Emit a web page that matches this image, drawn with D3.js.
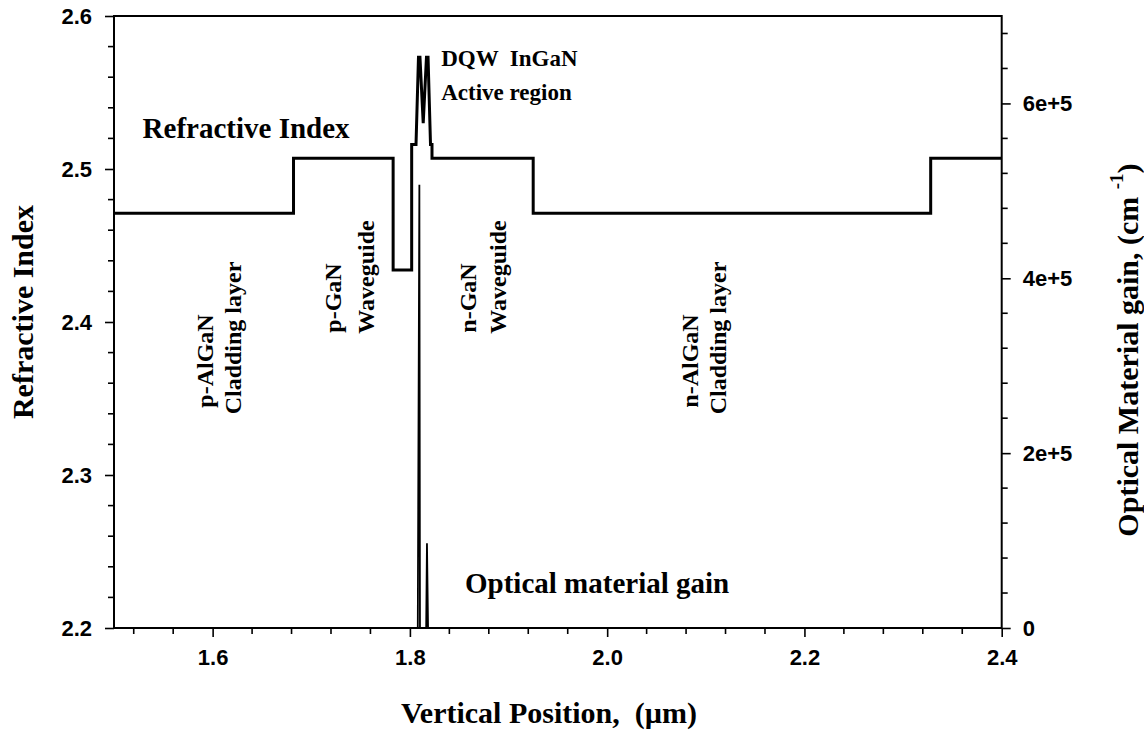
<!DOCTYPE html>
<html>
<head>
<meta charset="utf-8">
<script src="https://cdn.jsdelivr.net/npm/d3@7"></script>
<style>
  html, body { margin: 0; padding: 0; background: #fff; }
  svg { display: block; }
  .tick-label { font-family: "Liberation Sans", Arial, sans-serif; font-weight: bold; font-size: 22px; fill: #000; }
  .serif { font-family: "Liberation Serif", "Times New Roman", serif; font-weight: bold; fill: #000; }
</style>
</head>
<body>
<svg id="chart" width="1144" height="740"></svg>
<script>
// Refractive index profile across the laser structure (position in µm, index)
const indexPosition = [1.500, 1.682, 1.682, 1.783, 1.783, 1.8018, 1.8018, 1.8062, 1.8087, 1.8102, 1.8135, 1.8168, 1.8184, 1.8209, 1.8224, 1.8224, 1.925, 1.925, 2.328, 2.328, 2.400];
const indexValue    = [2.471, 2.471, 2.507, 2.507, 2.434, 2.434,  2.516,  2.516,  2.573,  2.573,  2.530,  2.573,  2.573,  2.516,  2.516,  2.507,  2.507, 2.471, 2.471, 2.507, 2.507];

// Optical material gain in the two quantum wells (position in µm, gain in cm^-1)
const gainPosition = [1.800, 1.8080, 1.8096, 1.8102, 1.8165, 1.8173, 1.8184, 1.826];
const gainValue    = [0,     0,      507000, 0,      0,      97000,  0,      0];

// Axis ticks
const xTickValues = [1.6, 1.8, 2.0, 2.2, 2.4];
const xTickLabels = ["1.6", "1.8", "2.0", "2.2", "2.4"];
const yTickValues = [2.2, 2.3, 2.4, 2.5, 2.6];
const yTickLabels = ["2.2", "2.3", "2.4", "2.5", "2.6"];
const gainTickValues = [0, 200000, 400000, 600000];
const gainTickLabels = ["0", "2e+5", "4e+5", "6e+5"];

const svg = d3.select("#chart");
const plotLeft = 114, plotRight = 1001.7, plotTop = 16, plotBottom = 628;

const x = d3.scaleLinear().domain([1.5, 2.4]).range([plotLeft, plotRight]);
const y = d3.scaleLinear().domain([2.2, 2.6]).range([plotBottom, plotTop]);
const yGain = d3.scaleLinear().domain([0, 700000]).range([plotBottom, plotTop]);

// minor tick positions
const xMinor = d3.range(38, 61).map(k => k * 0.04).filter(v => v >= 1.5 - 1e-9 && v <= 2.4 + 1e-9 && !xTickValues.some(t => Math.abs(t - v) < 1e-6));
const yMinor = d3.range(110, 131).map(k => k * 0.02).filter(v => !yTickValues.some(t => Math.abs(t - v) < 1e-6));
const gMinor = d3.range(0, 18).map(k => k * 40000).filter(v => !gainTickValues.includes(v));

// Bottom axis
const xAxis = d3.axisBottom(x).tickValues(xTickValues).tickFormat((d, i) => xTickLabels[i]).tickSize(9).tickPadding(12);
const gx = svg.append("g").attr("transform", `translate(0,${plotBottom})`).call(xAxis);
gx.append("g").selectAll("line").data(xMinor).join("line")
  .attr("x1", d => x(d)).attr("x2", d => x(d)).attr("y1", 0).attr("y2", 6)
  .attr("stroke", "#000").attr("stroke-width", 1.6);

// Left axis
const yAxis = d3.axisLeft(y).tickValues(yTickValues).tickFormat((d, i) => yTickLabels[i]).tickSize(9).tickPadding(13);
const gy = svg.append("g").attr("transform", `translate(${plotLeft},0)`).call(yAxis);
gy.append("g").selectAll("line").data(yMinor).join("line")
  .attr("y1", d => y(d)).attr("y2", d => y(d)).attr("x1", 0).attr("x2", -6)
  .attr("stroke", "#000").attr("stroke-width", 1.6);

// Right axis (gain)
const gAxis = d3.axisRight(yGain).tickValues(gainTickValues).tickFormat((d, i) => gainTickLabels[i]).tickSize(9).tickPadding(12);
const gg = svg.append("g").attr("transform", `translate(${plotRight},0)`).call(gAxis);
gg.append("g").selectAll("line").data(gMinor).join("line")
  .attr("y1", d => yGain(d)).attr("y2", d => yGain(d)).attr("x1", 0).attr("x2", 6)
  .attr("stroke", "#000").attr("stroke-width", 1.6);

[gx, gy, gg].forEach(g => {
  g.select(".domain").remove();
  g.selectAll(".tick line").attr("stroke", "#000").attr("stroke-width", 1.6);
  g.selectAll(".tick text").attr("class", "tick-label").attr("fill", "#000");
});

// Plot frame
svg.append("rect").attr("x", plotLeft).attr("y", plotTop).attr("width", plotRight - plotLeft).attr("height", plotBottom - plotTop)
  .attr("fill", "none").attr("stroke", "#000").attr("stroke-width", 2);

// Gain curve
const gainLine = d3.line().x((d, i) => x(gainPosition[i])).y(d => yGain(d));
svg.append("path").attr("d", gainLine(gainValue))
  .attr("fill", "none").attr("stroke", "#000").attr("stroke-width", 1.8).attr("stroke-linejoin", "miter");

// Refractive index profile
const indexLine = d3.line().x((d, i) => x(indexPosition[i])).y(d => y(d));
svg.append("path").attr("d", indexLine(indexValue))
  .attr("fill", "none").attr("stroke", "#000").attr("stroke-width", 3).attr("stroke-linejoin", "miter").attr("stroke-miterlimit", 2);

// In-plot annotations
function label(text, px, py, size) {
  return svg.append("text").attr("class", "serif").attr("x", px).attr("y", py)
    .attr("font-size", size).style("white-space", "pre").text(text);
}
label("Refractive Index", x(1.529), y(2.520), 29);
label("DQW  InGaN", x(1.8318), y(2.5673), 23);
label("Active region", x(1.8318), y(2.5451), 23);
label("Optical material gain", x(1.8559), y(2.2229), 29);

// Rotated layer labels
function vlabel(text, px, py) {
  svg.append("text").attr("class", "serif").attr("font-size", 24)
    .attr("text-anchor", "middle").attr("dominant-baseline", "central")
    .attr("transform", `translate(${px},${py}) rotate(-90)`).text(text);
}
vlabel("p-AlGaN", 205, 361);
vlabel("Cladding layer", 233, 338);
vlabel("p-GaN", 333, 298);
vlabel("Waveguide", 366, 277);
vlabel("n-GaN", 468, 298);
vlabel("Waveguide", 498, 277);
vlabel("n-AlGaN", 690, 361);
vlabel("Cladding layer", 718, 338);

// Axis titles
svg.append("text").attr("class", "serif").attr("font-size", 30).attr("text-anchor", "middle")
  .attr("x", 549).attr("y", 723).style("white-space", "pre").text("Vertical Position,  (\u00B5m)");

svg.append("text").attr("class", "serif").attr("font-size", 30).attr("text-anchor", "middle")
  .attr("dominant-baseline", "central")
  .attr("transform", `translate(22,312) rotate(-90)`).text("Refractive Index");

const rt = svg.append("text").attr("class", "serif").attr("font-size", 30).attr("text-anchor", "middle")
  .attr("dominant-baseline", "central").style("white-space", "pre")
  .attr("transform", `translate(1127,350) rotate(-90)`);
rt.append("tspan").text("Optical Material gain, (cm ");
rt.append("tspan").attr("font-size", 19).attr("baseline-shift", "super").text("-1");
rt.append("tspan").text(")");
</script>
</body>
</html>
